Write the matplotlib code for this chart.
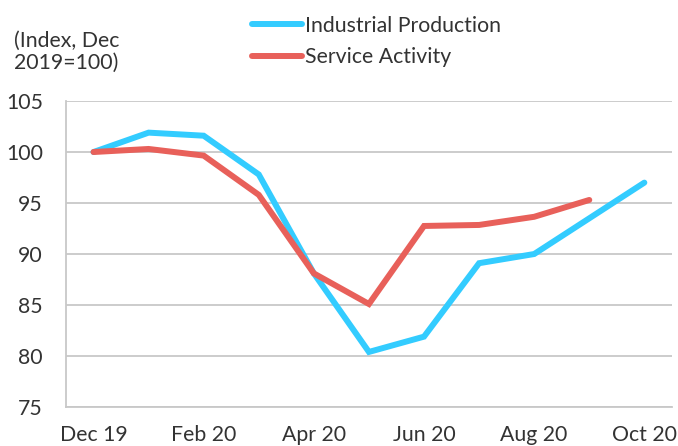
import matplotlib
matplotlib.use("Agg")
import matplotlib.pyplot as plt

plt.rcParams['font.family'] = ['Lato', 'DejaVu Sans']

months = ["Dec 19", "Jan 20", "Feb 20", "Mar 20", "Apr 20", "May 20",
          "Jun 20", "Jul 20", "Aug 20", "Sep 20", "Oct 20"]
industrial = [100.0, 101.9, 101.6, 97.8, 88.1, 80.4, 81.9, 89.1, 90.0, 93.5, 97.0]
service = [100.0, 100.3, 99.65, 95.8, 88.1, 85.1, 92.75, 92.85, 93.65, 95.3]
yticks = [75, 80, 85, 90, 95, 100, 105]

FS = 15.3
TXT = "#333333"

fig = plt.figure(figsize=(6.78, 4.46), dpi=100)
ax = fig.add_axes([0.0973, 0.0874, 0.8937, 0.6861])

x_ip = list(range(len(industrial)))
x_sv = list(range(len(service)))
l1, = ax.plot(x_ip, industrial, color="#33CCFF", lw=4.3, solid_capstyle="round",
              solid_joinstyle="miter", label="Industrial Production", zorder=3)
l2, = ax.plot(x_sv, service, color="#E8605A", lw=4.3, solid_capstyle="round",
              solid_joinstyle="miter", label="Service Activity", zorder=4)

ax.set_xlim(-0.5, len(months) - 0.5)
ax.set_ylim(75, 105)
ax.set_yticks(yticks)
ax.set_yticklabels([str(v) for v in yticks])
ax.set_xticks(list(range(0, len(months), 2)))
ax.set_xticklabels(months[::2])

ax.grid(axis="y", color="#C8C8C8", lw=1.3)
ax.set_axisbelow(True)
for s in ["top", "right"]:
    ax.spines[s].set_visible(False)
ax.spines["left"].set_color("#C8C8C8")
ax.spines["left"].set_linewidth(1.3)
ax.spines["bottom"].set_color("#C8C8C8")
ax.spines["bottom"].set_linewidth(1.3)
ax.tick_params(axis="both", length=0, labelsize=FS, colors=TXT)
ax.tick_params(axis="y", pad=16.5)
ax.tick_params(axis="x", pad=13)

fig.text(0.0206, 0.883, "(Index, Dec\n2019=100)", fontsize=FS, color=TXT,
         va="center", ha="left", linespacing=1.14)

leg = fig.legend(handles=[l1, l2], loc="upper left", bbox_to_anchor=(0.344, 1.008),
                 frameon=False, fontsize=FS, handlelength=2.35, handletextpad=0.15,
                 labelspacing=0.56)
for t in leg.get_texts():
    t.set_color(TXT)

fig.savefig("out.png", dpi=100)
